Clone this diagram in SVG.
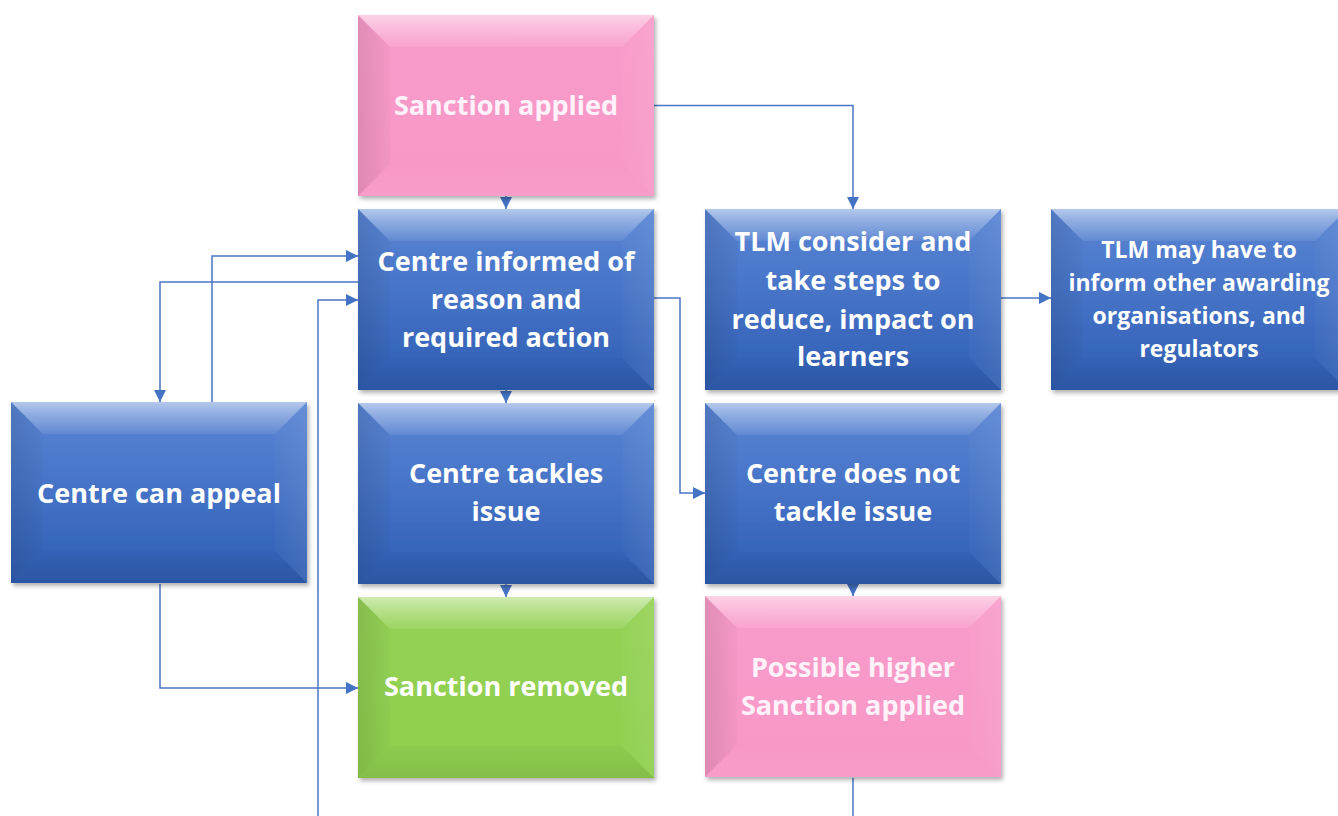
<svg xmlns="http://www.w3.org/2000/svg" xmlns:xlink="http://www.w3.org/1999/xlink" width="1338" height="816" viewBox="0 0 1338 816">
<defs>
<style>
.lbl{font-family:"Open Sans","Liberation Sans",sans-serif;font-weight:bold;font-size:27px;fill:#ffffff;text-anchor:middle}
.sm{font-size:23px}
.pk{fill:#fff2fa}
.con{fill:none;stroke:#4a76c6;stroke-width:1.5}
</style>
<marker id="arr" viewBox="0 0 12 12" refX="12" refY="6" markerWidth="12" markerHeight="12" markerUnits="userSpaceOnUse" orient="auto">
<path d="M0,0 L12,6 L0,12 z" fill="#4472c4"/>
</marker>
<filter id="sh" x="-10%" y="-10%" width="125%" height="130%">
<feDropShadow dx="2" dy="3" stdDeviation="2" flood-color="#000" flood-opacity="0.3"/>
</filter>
<linearGradient id="gBlue" x1="0" y1="0" x2="0" y2="1">
<stop offset="0" stop-color="#5a86d4"/>
<stop offset="0.5" stop-color="#4572c6"/>
<stop offset="1" stop-color="#2e5db2"/>
</linearGradient>
<linearGradient id="gPink" x1="0" y1="0" x2="0" y2="1">
<stop offset="0" stop-color="#f99ccb"/>
<stop offset="1" stop-color="#f797c6"/>
</linearGradient>
<linearGradient id="gGreen" x1="0" y1="0" x2="0" y2="1">
<stop offset="0" stop-color="#95d255"/>
<stop offset="1" stop-color="#8fce4e"/>
</linearGradient>
<linearGradient id="bTop" x1="0" y1="0" x2="0" y2="1">
<stop offset="0" stop-color="#fff" stop-opacity="0.55"/>
<stop offset="0.35" stop-color="#fff" stop-opacity="0.35"/>
<stop offset="1" stop-color="#fff" stop-opacity="0.08"/>
</linearGradient>
<linearGradient id="bLeft" x1="0" y1="0" x2="1" y2="0">
<stop offset="0" stop-color="#000" stop-opacity="0.1"/>
<stop offset="1" stop-color="#000" stop-opacity="0.02"/>
</linearGradient>
<linearGradient id="bRight" x1="0" y1="0" x2="1" y2="0">
<stop offset="0" stop-color="#fff" stop-opacity="0.02"/>
<stop offset="1" stop-color="#fff" stop-opacity="0.08"/>
</linearGradient>
<linearGradient id="bBot" x1="0" y1="0" x2="0" y2="1">
<stop offset="0" stop-color="#000" stop-opacity="0.02"/>
<stop offset="1" stop-color="#000" stop-opacity="0.08"/>
</linearGradient>
<linearGradient id="bBotP" x1="0" y1="0" x2="0" y2="1">
<stop offset="0" stop-color="#fff" stop-opacity="0.0"/>
<stop offset="1" stop-color="#fff" stop-opacity="0.06"/>
</linearGradient>
<g id="bevelT">
<polygon points="0,0 296,0 264,32 32,32" fill="url(#bTop)"/>
<polygon points="0,0 32,32 32,149 0,181" fill="url(#bLeft)"/>
<polygon points="296,0 296,181 264,149 264,32" fill="url(#bRight)"/>
</g>
<g id="boxBlue">
<rect width="296" height="181" fill="url(#gBlue)" filter="url(#sh)"/>
<use xlink:href="#bevelT" href="#bevelT"/>
<polygon points="0,181 32,149 264,149 296,181" fill="url(#bBot)"/>
</g>
<g id="boxPink">
<rect width="296" height="181" fill="url(#gPink)" filter="url(#sh)"/>
<use xlink:href="#bevelT" href="#bevelT"/>
<polygon points="0,181 32,149 264,149 296,181" fill="url(#bBotP)"/>
</g>
<g id="boxGreen">
<rect width="296" height="181" fill="url(#gGreen)" filter="url(#sh)"/>
<use xlink:href="#bevelT" href="#bevelT"/>
<polygon points="0,181 32,149 264,149 296,181" fill="url(#bBot)"/>
</g>
</defs>
<rect width="1338" height="816" fill="#ffffff"/>

<g id="connectors">
<path class="con" d="M506,196 V209" marker-end="url(#arr)"/>
<path class="con" d="M654,105.5 H853 V209" marker-end="url(#arr)"/>
<path class="con" d="M506,390 V403" marker-end="url(#arr)"/>
<path class="con" d="M506,584 V597" marker-end="url(#arr)"/>
<path class="con" d="M853,584 V596" marker-end="url(#arr)"/>
<path class="con" d="M1000,298 H1051" marker-end="url(#arr)"/>
<path class="con" d="M654,298 H680 V493 H705" marker-end="url(#arr)"/>
<path class="con" d="M358,282 H160 V402" marker-end="url(#arr)"/>
<path class="con" d="M212,402 V256 H358" marker-end="url(#arr)"/>
<path class="con" d="M318,816 V300 H358" marker-end="url(#arr)"/>
<path class="con" d="M160,584 V688 H358" marker-end="url(#arr)"/>
<path class="con" d="M853,778 V816"/>
</g>

<g id="sanction-applied">
<use xlink:href="#boxPink" href="#boxPink" x="358" y="15"/>
<text class="lbl pk" x="506" y="115">Sanction applied</text>
</g>
<g id="centre-informed">
<use xlink:href="#boxBlue" href="#boxBlue" x="358" y="209"/>
<text class="lbl" x="506" y="271">Centre informed of</text>
<text class="lbl" x="506" y="309">reason and</text>
<text class="lbl" x="506" y="347">required action</text>
</g>
<g id="centre-tackles">
<use xlink:href="#boxBlue" href="#boxBlue" x="358" y="403"/>
<text class="lbl" x="506" y="483">Centre tackles</text>
<text class="lbl" x="506" y="521">issue</text>
</g>
<g id="sanction-removed">
<use xlink:href="#boxGreen" href="#boxGreen" x="358" y="597"/>
<text class="lbl" x="506" y="696">Sanction removed</text>
</g>
<g id="centre-appeal">
<use xlink:href="#boxBlue" href="#boxBlue" x="11" y="402"/>
<text class="lbl" x="159" y="503">Centre can appeal</text>
</g>
<g id="tlm-consider">
<use xlink:href="#boxBlue" href="#boxBlue" x="705" y="209"/>
<text class="lbl" x="853" y="251">TLM consider and</text>
<text class="lbl" x="853" y="290">take steps to</text>
<text class="lbl" x="853" y="329">reduce, impact on</text>
<text class="lbl" x="853" y="366">learners</text>
</g>
<g id="centre-not-tackle">
<use xlink:href="#boxBlue" href="#boxBlue" x="705" y="403"/>
<text class="lbl" x="853" y="483">Centre does not</text>
<text class="lbl" x="853" y="521">tackle issue</text>
</g>
<g id="higher-sanction">
<use xlink:href="#boxPink" href="#boxPink" x="705" y="596"/>
<text class="lbl pk" x="853" y="677">Possible higher</text>
<text class="lbl pk" x="853" y="715">Sanction applied</text>
</g>
<g id="tlm-inform">
<use xlink:href="#boxBlue" href="#boxBlue" x="1051" y="209"/>
<text class="lbl sm" x="1199" y="258">TLM may have to</text>
<text class="lbl sm" x="1199" y="291">inform other awarding</text>
<text class="lbl sm" x="1199" y="324">organisations, and</text>
<text class="lbl sm" x="1199" y="357">regulators</text>
</g>
</svg>
